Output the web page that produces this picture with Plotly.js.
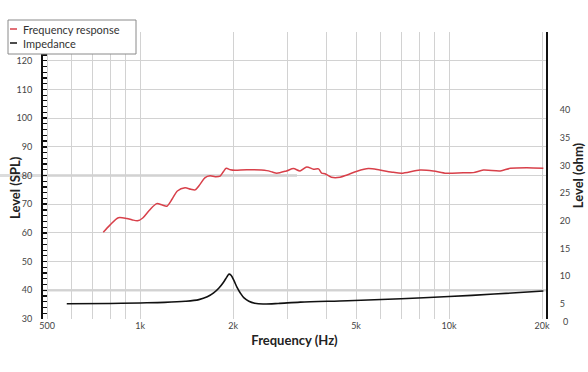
<!DOCTYPE html>
<html>
<head>
<meta charset="utf-8">
<script src="https://cdn.plot.ly/plotly-3.0.1.min.js"></script>
<style>html,body{margin:0;padding:0;background:#fff;}#chart{width:588px;height:372px;}</style>
</head>
<body>
<div id="chart"></div>
<script>
// Frequency response (dB SPL)
const frFreq = [760, 800, 851, 906, 940, 980, 1020, 1070, 1132, 1180, 1220, 1270, 1320, 1398, 1460, 1507, 1563, 1620, 1685, 1750, 1815, 1860, 1900, 1960, 2030, 2214, 2571, 2680, 2770, 2977, 3137, 3295, 3463, 3640, 3780, 3870, 3968, 4163, 4436, 4676, 5038, 5483, 5970, 6600, 7020, 8050, 8890, 9800, 11120, 11990, 12920, 14650, 15780, 17850, 20200];
const frLevel = [60.2, 62.8, 65.3, 65.0, 64.6, 64.2, 65.2, 67.8, 70.2, 69.7, 69.3, 71.8, 74.6, 75.7, 75.2, 75.0, 76.9, 79.2, 79.9, 79.6, 79.8, 81.3, 82.5, 82.0, 81.8, 82.0, 81.7, 81.2, 80.8, 81.6, 82.4, 81.6, 83.0, 82.2, 82.3, 80.8, 80.6, 79.4, 79.4, 80.2, 81.5, 82.4, 81.9, 81.1, 80.8, 81.9, 81.6, 80.8, 81.0, 81.0, 81.9, 81.6, 82.5, 82.7, 82.5];
// Impedance (ohm)
const impFreq = [579, 800, 1000, 1200, 1400, 1550, 1650, 1730, 1800, 1860, 1910, 1940, 1970, 2010, 2060, 2110, 2170, 2250, 2350, 2500, 2800, 3300, 4700, 7000, 10000, 14000, 20200];
const impOhm = [5.05, 5.1, 5.2, 5.3, 5.5, 5.8, 6.3, 7.0, 7.9, 8.9, 9.9, 10.4, 10.2, 9.3, 8.0, 7.0, 6.1, 5.5, 5.15, 5.0, 5.1, 5.35, 5.6, 5.95, 6.35, 6.8, 7.35];
// Axis ticks
const xTickVals = [500, 600, 700, 800, 900, 1000, 2000, 3000, 4000, 5000, 6000, 7000, 8000, 9000, 10000, 20000];
const xTickText = ['500', '', '', '', '', '1k', '2k', '', '', '5k', '', '', '', '', '10k', '20k'];
const splTicks = [30, 40, 50, 60, 70, 80, 90, 100, 110, 120];
const ohmTicks = [5, 10, 15, 20, 25, 30, 35, 40];
const legendNames = ['Frequency response', 'Impedance'];

const L = 43, R = 546, T = 32, B = 319, W = 588, H = 372;
const px = x => (x - L) / (R - L);
const py = y => (B - y) / (B - T);
const FONT = 'Lato, "Open Sans", sans-serif';
const titleFont = {size: 13, color: '#222', family: FONT, weight: 'bold'};

const traces = [
  {x: frFreq, y: frLevel, type: 'scatter', mode: 'lines', name: legendNames[0],
   line: {color: '#d8404a', width: 1.5, shape: 'spline', smoothing: 0.8}, yaxis: 'y'},
  {x: impFreq, y: impOhm, type: 'scatter', mode: 'lines', name: legendNames[1],
   line: {color: '#111', width: 1.6, shape: 'spline', smoothing: 0.9}, yaxis: 'y2'}
];

const layout = {
  width: W, height: H,
  margin: {l: L, r: W - R, t: T, b: H - B},
  paper_bgcolor: '#fff', plot_bgcolor: '#fff',
  showlegend: false,
  font: {family: FONT, color: '#444', size: 9},
  xaxis: {
    type: 'log', range: [Math.log10(485), Math.log10(20600)],
    tickvals: xTickVals, ticktext: xTickText,
    showgrid: true, gridcolor: '#d2d2d2', gridwidth: 1,
    zeroline: false, showline: false, ticks: '',
    tickfont: {size: 9, color: '#444'},
    title: {text: 'Frequency (Hz)', font: titleFont, standoff: 5}
  },
  yaxis: {
    range: [30, 130], tickvals: splTicks,
    showgrid: true, gridcolor: '#d2d2d2', gridwidth: 1,
    zeroline: false, showline: true, linecolor: '#111', linewidth: 2,
    ticks: 'inside', ticklen: 4, tickcolor: '#111', tickwidth: 1.5,
    ticklabelstandoff: 7,
    minor: {dtick: 2, ticks: 'inside', ticklen: 4, tickcolor: '#111', tickwidth: 1.2, showgrid: false},
    tickfont: {size: 9, color: '#444'}
  },
  yaxis2: {
    overlaying: 'y', side: 'right',
    range: [2.3, 54.1], tickvals: ohmTicks,
    showgrid: false, zeroline: false,
    showline: true, linecolor: '#111', linewidth: 2, ticks: '',
    ticklabelstandoff: 10,
    tickfont: {size: 9, color: '#444'},
    title: {text: 'Level (ohm)', font: titleFont, standoff: 4}
  },
  shapes: [
    {type: 'line', xref: 'paper', yref: 'y', x0: px(0), x1: px(297), y0: 80, y1: 80,
     line: {color: '#dcdcdc', width: 3}, layer: 'below'},
    {type: 'line', xref: 'paper', yref: 'y', x0: 0, x1: 1, y0: 40, y1: 40,
     line: {color: '#d6d6d6', width: 2.5}, layer: 'below'},
    {type: 'rect', xref: 'paper', yref: 'paper', x0: px(8), x1: px(136), y0: py(54), y1: py(20),
     line: {color: '#8a8a8a', width: 1}, fillcolor: '#fff'},
    {type: 'line', xref: 'paper', yref: 'paper', x0: px(10), x1: px(17), y0: py(29), y1: py(29),
     line: {color: '#d8404a', width: 1.5}},
    {type: 'line', xref: 'paper', yref: 'paper', x0: px(10), x1: px(17), y0: py(43), y1: py(43),
     line: {color: '#111', width: 1.5}}
  ],
  annotations: [
    {xref: 'paper', yref: 'paper', x: px(21), y: py(29), xanchor: 'left', yanchor: 'middle',
     text: legendNames[0], showarrow: false, font: {size: 11, color: '#333', family: FONT}},
    {xref: 'paper', yref: 'paper', x: px(21), y: py(43), xanchor: 'left', yanchor: 'middle',
     text: legendNames[1], showarrow: false, font: {size: 11, color: '#333', family: FONT}},
    {xref: 'paper', yref: 'paper', x: px(565), y: py(321), xanchor: 'center', yanchor: 'middle',
     text: '0', showarrow: false, font: {size: 9, color: '#444', family: FONT}},
    {xref: 'paper', yref: 'paper', x: px(15), y: py(188), xanchor: 'center', yanchor: 'middle',
     textangle: -90, text: 'Level (SPL)', showarrow: false, font: titleFont}
  ]
};

Plotly.newPlot('chart', traces, layout, {displayModeBar: false, staticPlot: true});
</script>
</body>
</html>
